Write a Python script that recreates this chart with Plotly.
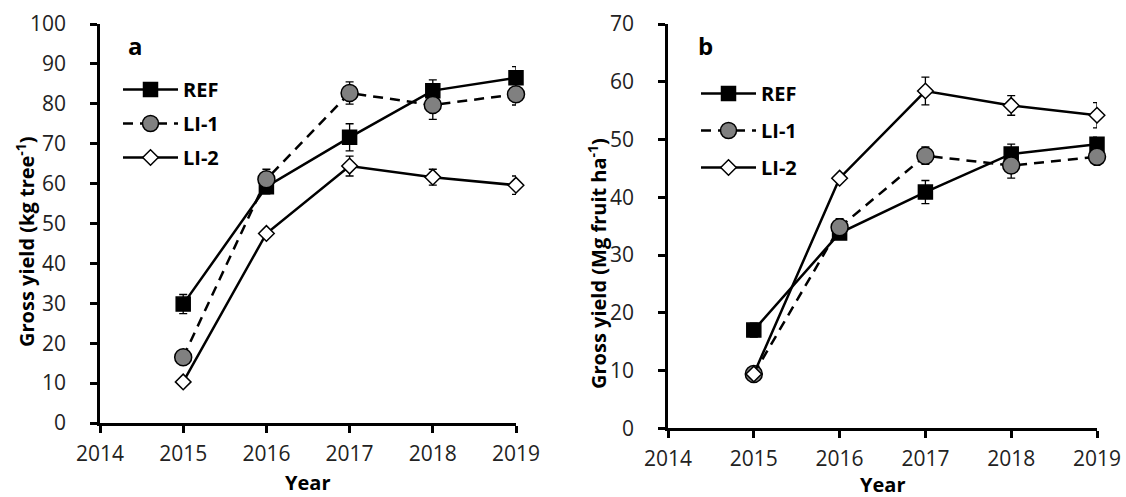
import plotly.graph_objects as go

years = [2015, 2016, 2017, 2018, 2019]
series_names = ["REF", "LI-1", "LI-2"]

# Panel a: Gross yield (kg tree-1)
a_ref = [29.8, 59.2, 71.6, 83.3, 86.5]
a_ref_err = [2.4, 1.8, 3.4, 2.7, 2.8]
a_li1 = [16.5, 61.1, 82.7, 79.7, 82.4]
a_li1_err = [1.5, 2.5, 2.8, 3.6, 2.7]
a_li2 = [10.3, 47.5, 64.4, 61.6, 59.6]
a_li2_err = [0.8, 0.8, 2.5, 2.0, 2.3]

# Panel b: Gross yield (Mg fruit ha-1)
b_ref = [17.0, 33.8, 40.9, 47.5, 49.2]
b_ref_err = [1.2, 1.0, 2.0, 1.7, 1.2]
b_li1 = [9.4, 34.8, 47.2, 45.5, 47.0]
b_li1_err = [0.6, 1.5, 1.5, 2.2, 1.2]
b_li2 = [9.4, 43.3, 58.4, 55.9, 54.2]
b_li2_err = [0.5, 0.6, 2.4, 1.7, 2.2]

x_ticks = [2014, 2015, 2016, 2017, 2018, 2019]

FONT = "Open Sans"
W, H = 1126, 497
styles = {
    "REF": dict(symbol="square", size=14, fill="black", dash="solid"),
    "LI-1": dict(symbol="circle", size=17, fill="#808080", dash="10px,7px"),
    "LI-2": dict(symbol="diamond", size=12, fill="white", dash="solid"),
}

fig = go.Figure()

def add_panel(vals, errs, xa, ya, legend, prefix):
    for name, v, e in zip(series_names, vals, errs):
        s = styles[name]
        fig.add_trace(go.Scatter(
            x=years, y=v, name=name, mode="lines+markers",
            xaxis=xa, yaxis=ya, legend=legend,
            legendgroup=prefix + name,
            line=dict(color="black", width=2.5, dash=s["dash"]),
            marker=dict(symbol=s["symbol"], size=s["size"], color=s["fill"],
                        line=dict(color="black", width=1.5)),
            error_y=dict(type="data", array=e, visible=True, color="black",
                         thickness=1.3, width=4),
            cliponaxis=False,
        ))

add_panel([a_ref, a_li1, a_li2], [a_ref_err, a_li1_err, a_li2_err], "x", "y", "legend", "a")
add_panel([b_ref, b_li1, b_li2], [b_ref_err, b_li1_err, b_li2_err], "x2", "y2", "legend2", "b")

axis_common = dict(showline=True, linecolor="black", linewidth=2.5, ticks="outside",
                   ticklen=7, tickwidth=2.5, tickcolor="black", showgrid=False,
                   zeroline=False, automargin=False,
                   tickfont=dict(family=FONT, size=21, color="#222"))

fig.update_layout(
    width=W, height=H,
    margin=dict(l=0, r=0, t=0, b=0),
    paper_bgcolor="white", plot_bgcolor="white",
    font=dict(family=FONT, color="black"),
    xaxis=dict(domain=[100 / W, 516 / W], range=[2014, 2019], tickvals=x_ticks,
               anchor="y", ticklabelstandoff=3, **axis_common),
    yaxis=dict(domain=[1 - 423 / H, 1 - 24 / H], range=[0, 100], dtick=10, anchor="x",
               ticklabelstandoff=20, **axis_common),
    xaxis2=dict(domain=[668 / W, 1097 / W], range=[2014, 2019], tickvals=x_ticks,
                anchor="y2", ticklabelstandoff=3, **axis_common),
    yaxis2=dict(domain=[1 - 428.3 / H, 1 - 24 / H], range=[0, 70], dtick=10, anchor="x2",
                ticklabelstandoff=20, **axis_common),
    legend=dict(x=118 / W, y=1 - 70 / H, xanchor="left", yanchor="top",
                font=dict(family=FONT, size=20, color="black", weight="bold"),
                tracegroupgap=5, bgcolor="rgba(0,0,0,0)", itemwidth=55),
    legend2=dict(x=696 / W, y=1 - 74 / H, xanchor="left", yanchor="top",
                 font=dict(family=FONT, size=20, color="black", weight="bold"),
                 tracegroupgap=8, bgcolor="rgba(0,0,0,0)", itemwidth=55),
    showlegend=True,
)

ann_font = dict(family=FONT, size=20, color="black", weight="bold")
panel_font = dict(family=FONT, size=24, color="black", weight="bold")

def ann(text, x, y, font, angle=0):
    fig.add_annotation(text=text, x=x / W, y=1 - y / H, xref="paper", yref="paper",
                       xanchor="center", yanchor="middle", showarrow=False,
                       textangle=angle, font=font)

ann("a", 135, 45, panel_font)
ann("b", 705, 46, panel_font)
ann("Year", 308, 482, ann_font)
ann("Year", 882, 484, ann_font)
ann("Gross yield (kg tree<sup>-1</sup>)", 25, 242, ann_font, -90)
ann("Gross yield (Mg fruit ha<sup>-1</sup>)", 597, 264, ann_font, -90)

fig.write_html("out.html")
